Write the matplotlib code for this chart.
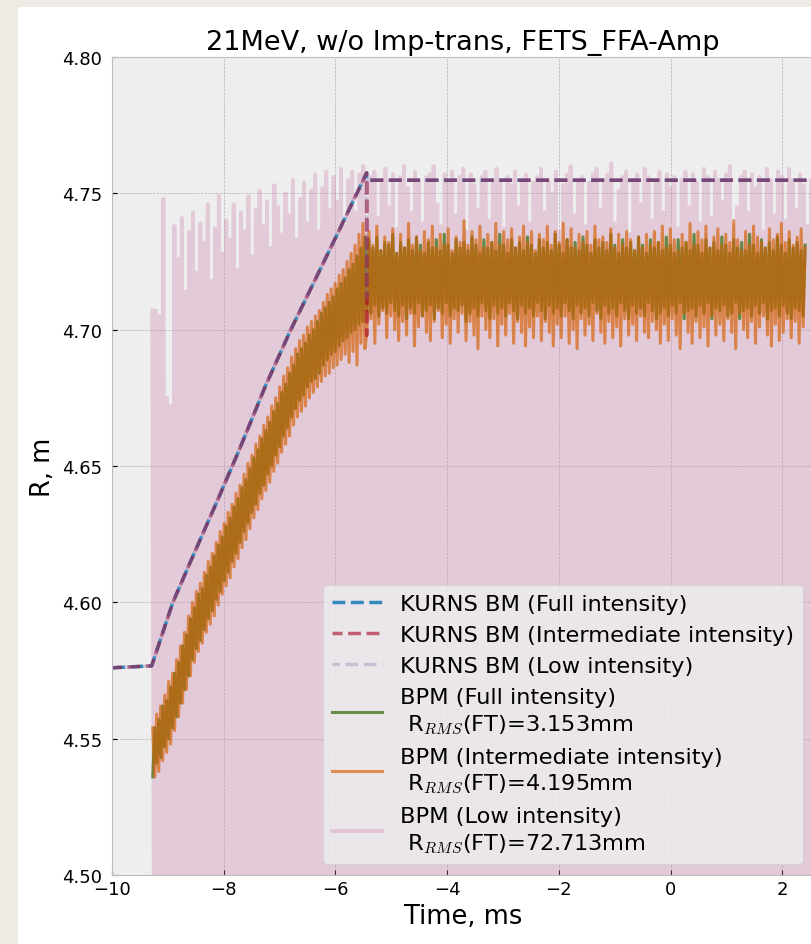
import numpy as np
import matplotlib
matplotlib.use("Agg")
import matplotlib.pyplot as plt
from matplotlib.patches import Rectangle
from matplotlib.ticker import FormatStrFormatter

plt.style.use("bmh")
plt.rcParams["path.simplify"] = False

title = "21MeV, w/o Imp-trans, FETS_FFA-Amp"
xlabel = "Time, ms"
ylabel = "R, m"

# KURNS beam model, R in m vs time in ms
kurns_ramp_t = [-10.0, -9.29, -8.91, -8.55, -8.12, -7.71, -7.26, -6.81, -6.33, -5.92, -5.44]
kurns_ramp_R = [4.576, 4.5767, 4.600, 4.617, 4.637, 4.6565, 4.679, 4.6995, 4.7197, 4.737, 4.7575]
kurns_full_t = kurns_ramp_t + [-5.44, 2.7]
kurns_full_R = kurns_ramp_R + [4.7548, 4.7548]
kurns_mid_t = kurns_ramp_t + [-5.44, -5.44, 2.7]
kurns_mid_R = kurns_ramp_R + [4.698, 4.7548, 4.7548]
kurns_low_t = kurns_ramp_t + [-5.44, -5.44, 2.7]
kurns_low_R = kurns_ramp_R + [4.712, 4.7548, 4.7548]

# BPM readings, mm above 4.5 m (330 samples, -9.27 .. 2.41 ms)
full_ramp_mm = [36, 54, 41, 57, 43, 62, 47, 64, 50, 69, 54, 74, 58, 78, 63, 84, 68, 88,
                73, 94, 79, 98, 83, 103, 86, 105, 90, 110, 94, 113, 97, 117, 101, 121,
                104, 124, 108, 128, 111, 131, 115, 135, 118, 138, 122, 142, 126, 145,
                129, 149, 133, 153, 136, 156, 140, 160, 143, 163, 147, 166, 150, 170,
                154, 173, 157, 177, 161, 180, 164, 184, 168, 187, 171, 191, 174, 193,
                176, 195, 179, 198, 181, 200, 182, 203, 184, 206, 187, 208, 189, 210,
                191, 212, 192, 215, 194, 217, 196, 219, 197, 222, 199, 224, 200, 227,
                202, 230, 203, 234]
full_flat_mm = [207, 233, 206, 230, 209, 234, 205, 229, 208, 232,
                206, 231, 210, 235, 207, 228, 205, 232, 209, 230,
                204, 233, 208, 229, 206, 234, 210, 231, 205, 228,
                207, 232, 209, 230, 204, 233, 208, 229, 206, 235,
                210, 231, 205, 228, 208, 233, 207, 230, 209, 232,
                203, 229, 206, 234, 208, 231, 205, 228, 210, 233,
                207, 230, 204, 232, 209, 229, 206, 235, 208, 231,
                205, 228, 210, 233, 207, 230, 204, 232, 209, 229,
                206, 234, 208, 231, 205, 228, 210, 233, 207, 230,
                204, 232, 209, 229, 206, 235, 208, 231, 205, 228,
                210, 233, 207, 230, 204, 232, 209, 229, 206, 234,
                208, 231, 205, 228, 210, 233, 207, 230, 204, 232,
                209, 229, 206, 235, 208, 231, 205, 228, 210, 233,
                207, 230, 204, 232, 209, 229, 206, 234, 208, 231,
                205, 228, 210, 233, 207, 230, 204, 232, 206, 229,
                208, 234, 205, 231, 209, 228, 206, 233, 210, 230,
                204, 232, 207, 229, 208, 235, 205, 231, 209, 228,
                206, 233, 210, 230, 204, 232, 208, 229, 207, 234,
                209, 231, 205, 228, 206, 233, 210, 230, 204, 232,
                207, 229, 208, 235, 205, 231, 209, 228, 206, 233,
                210, 230, 204, 232, 207, 229, 208, 234, 205, 231,
                209, 228, 206, 233, 204, 230, 208, 232, 207, 229,
                205, 231]
mid_ramp_mm = [54, 36, 59, 38, 62, 42, 66, 45, 71, 48, 74, 53, 79, 58, 84, 63, 89, 68,
               95, 73, 100, 78, 104, 82, 107, 85, 111, 89, 115, 92, 118, 95, 122, 99,
               126, 103, 129, 106, 133, 109, 136, 113, 140, 116, 143, 120, 147, 123,
               151, 127, 154, 131, 158, 134, 161, 138, 165, 141, 168, 144, 172, 148,
               175, 151, 179, 155, 183, 158, 186, 161, 190, 165, 193, 168, 196, 170,
               198, 172, 201, 175, 203, 177, 205, 179, 207, 181, 210, 183, 213, 184,
               215, 186, 217, 187, 220, 189, 222, 191, 225, 188, 228, 192, 231, 187,
               235, 195, 239, 193]
mid_flat_mm = [199, 236, 204, 231, 195, 238, 202, 229, 207, 234,
               197, 232, 205, 237, 200, 228, 196, 235, 203, 230,
               198, 239, 206, 231, 194, 234, 201, 229, 205, 236,
               199, 233, 196, 238, 203, 230, 207, 235, 197, 231,
               202, 237, 195, 229, 204, 234, 199, 232, 206, 240,
               196, 231, 203, 236, 198, 233, 193, 238, 205, 230,
               200, 235, 197, 232, 204, 239, 194, 231, 202, 236,
               198, 233, 206, 237, 195, 230, 203, 234, 199, 238,
               194, 232, 201, 236, 197, 229, 205, 235, 196, 233,
               203, 238, 199, 231, 194, 236, 202, 232, 197, 239,
               205, 233, 195, 237, 200, 230, 193, 235, 204, 232,
               198, 236, 202, 231, 196, 238, 206, 233, 199, 234,
               195, 232, 203, 237, 197, 230, 201, 235, 194, 231,
               204, 236, 198, 233, 202, 229, 196, 234, 205, 230,
               199, 235, 197, 231, 203, 236, 200, 232, 195, 238,
               202, 230, 196, 237, 204, 233, 198, 229, 193, 235,
               206, 232, 199, 239, 195, 231, 203, 236, 197, 233,
               201, 238, 194, 230, 205, 234, 198, 237, 202, 231,
               196, 235, 204, 232, 199, 240, 193, 233, 206, 229,
               200, 236, 197, 231, 203, 238, 195, 234, 201, 232,
               205, 230, 198, 237, 194, 233, 202, 235, 196, 239,
               199, 232, 204, 236, 197, 231, 203, 234, 195, 237,
               201, 230]

# low intensity BPM: alternating peak / trough, mm above 4.5 m (-9.28 .. 2.62 ms)
low_peaks_mm = [207, 207, 205, 248, 175, 172, 238, 226, 241, 214,
                236, 243, 221, 239, 232, 246, 218, 237, 249, 228,
                240, 233, 246, 222, 243, 236, 249, 227, 244, 251,
                238, 247, 230, 253, 245, 235, 250, 242, 255, 233,
                248, 254, 239, 251, 257, 236, 252, 258, 244, 256,
                247, 259, 238, 255, 258, 243, 257, 260, 240,
                256, 258, 241, 255, 259, 245, 257, 237, 256, 260, 252,
                243, 258, 254, 239, 256, 257, 260, 246, 238, 257,
                254, 258, 242, 256, 259, 236, 257, 253, 244, 256,
                258, 240, 255, 259, 254, 237, 256, 253, 258, 245,
                255, 257, 239, 254, 256, 259, 243, 255, 250, 258,
                236, 253, 257, 260, 242, 255, 256, 238, 254, 257,
                259, 244, 255, 257, 261, 239, 251, 256, 258, 235,
                255, 257, 246, 259, 256, 240, 254, 258, 243, 257,
                252, 256, 237, 255, 258, 245, 257, 254, 239, 259,
                256, 241, 258, 255, 247, 257, 260, 238, 245, 256,
                258, 243, 257, 252, 256, 236, 259, 255, 242, 258,
                256, 240, 259, 255, 244, 257, 253, 238, 255, 257]
low_troughs_mm = [-48, -62, -37, -55, -71, -44, -59, -40, -66, -52, -35, -58, -47, -69, -41, -53, -63, -39,
                  -57, -45, -68, -36, -50, -61, -43, -72, -49, -38, -60, -54, -42, -67, -46, -56, -34, -64,
                  -51, -70, -39, -58, -44, -62, -37, -53, -66, -48, -41, -59, -55, -35, -69, -47, -60, -43,
                  -63, -40, -52, -71, -46, -57, -38, -65, -50, -42, -61, -36, -54, -68, -45, -58, -49, -37,
                  -66, -53, -41, -60, -47, -70, -39, -56, -44, -62, -35, -51, -64, -48, -59, -42, -67, -55,
                  -38, -61, -46, -52, -69, -43, -57, -40, -65, -50, -36, -63, -47, -58, -54, -41, -68, -45,
                  -60, -39, -53, -71, -44, -56, -37, -62, -49, -66, -42, -55, -34, -59, -48, -64, -51, -40,
                  -57, -67, -43, -52, -38, -61, -46, -70, -41, -58, -35, -63, -50, -45, -69, -54, -39, -60,
                  -47, -56, -42, -65, -36, -53, -62, -44, -59, -49, -68, -40, -55, -37, -64, -51, -43, -58,
                  -66, -46, -61, -38, -52, -70, -45, -57, -41, -63, -48, -35, -60, -54, -67, -42, -56, -50]

labels = ["KURNS BM (Full intensity)",
          "KURNS BM (Intermediate intensity)",
          "KURNS BM (Low intensity)",
          "BPM (Full intensity)\n R$_{RMS}$(FT)=3.153mm",
          "BPM (Intermediate intensity)\n R$_{RMS}$(FT)=4.195mm",
          "BPM (Low intensity)\n R$_{RMS}$(FT)=72.713mm"]

bpm_t = np.linspace(-9.27, 2.41, 330)
full_R = 4.5 + np.array(full_ramp_mm + full_flat_mm) / 1000
mid_R = 4.5 + np.array(mid_ramp_mm + mid_flat_mm) / 1000

low_t = np.linspace(-9.28, 2.62, 360)
low_mm = np.empty(360)
low_mm[0::2] = low_peaks_mm
low_mm[1::2] = low_troughs_mm
low_R = 4.5 + low_mm / 1000

fig = plt.figure(figsize=(8.12, 9.45), dpi=100)
fig.patch.set_facecolor("#eeebe5")
fig.add_artist(Rectangle((18 / 812, 0), 1, (945 - 8) / 945, transform=fig.transFigure,
                         facecolor="white", edgecolor="none", zorder=-1))

ax = fig.add_axes([112 / 812, 69 / 945, 702 / 812, 818 / 945])

lw = 2.2
klw = 2.5
l_low, = ax.plot(low_t, low_R, color="#CC79A7", alpha=0.3, lw=2.8, label=labels[5])
l_full, = ax.plot(bpm_t, full_R, color="#467821", alpha=0.8, lw=lw, label=labels[3])
l_mid, = ax.plot(bpm_t, mid_R, color="#D55E00", alpha=0.65, lw=lw, label=labels[4])
k_full, = ax.plot(kurns_full_t, kurns_full_R, ls=(0, (3.7, 1.6)), color="#348ABD",
                  lw=klw, label=labels[0])
k_mid, = ax.plot(kurns_mid_t, kurns_mid_R, ls=(0.8, (3.7, 1.6)), color="#A60628",
                 alpha=0.6, lw=klw, label=labels[1])
k_low, = ax.plot(kurns_low_t, kurns_low_R, ls=(1.6, (3.7, 1.6)), color="#7A68A6",
                 alpha=0.3, lw=klw, label=labels[2])

ax.set_xlim(-10, -10 + 702 / 55.85)
ax.set_ylim(4.50, 4.80)
ax.set_xticks(np.arange(-10, 3, 2))
ax.set_yticks(np.arange(4.50, 4.81, 0.05))
ax.yaxis.set_major_formatter(FormatStrFormatter("%.2f"))
ax.tick_params(labelsize=13)
ax.tick_params(axis="y", pad=7)

ax.set_title(title, fontsize=19.5)
ax.set_xlabel(xlabel, fontsize=18.5)
ax.set_ylabel(ylabel, fontsize=18.5, labelpad=4)

leg = ax.legend(handles=[k_full, k_mid, k_low, l_full, l_mid, l_low], loc="lower right",
                fontsize=16.2, labelspacing=0.5, handlelength=2.2, framealpha=0.8)
for txt in leg.get_texts():
    txt.set_linespacing(1.3)

fig.savefig("out.png", dpi=100, facecolor=fig.get_facecolor())
